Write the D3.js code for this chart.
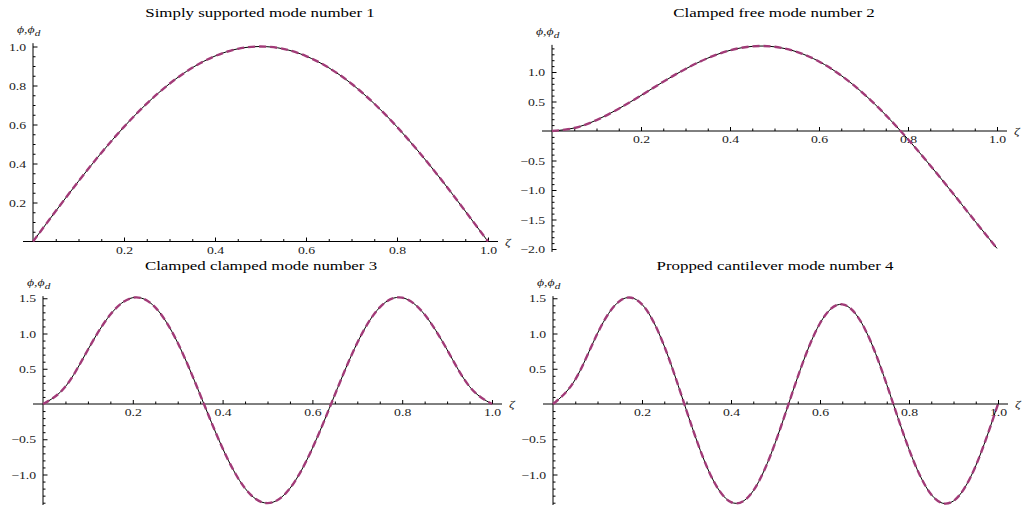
<!DOCTYPE html>
<html>
<head>
<meta charset="utf-8">
<script src="https://cdn.jsdelivr.net/npm/d3@7"></script>
<style>
    body { margin: 0; background: #fff; }
    svg { display: block; font-family: "Liberation Serif", "Times New Roman", serif; }
    .axis text { font-size: 11px; fill: #1a1a1a; }
    .axis line { stroke: #000; stroke-width: 1; }
    .axis-line { stroke: #000; stroke-width: 1; }
    .title { font-size: 13.5px; fill: #000; }
    .var-label { font-size: 11px; font-style: italic; fill: #1a1a1a; }
</style>
</head>
<body>
<div class="chart-main"></div>
<script>

//////////
// DATA //
//////////

var zeta = [0, 0.05, 0.1, 0.15, 0.2, 0.25, 0.3, 0.35, 0.4, 0.45, 0.5,
            0.55, 0.6, 0.65, 0.7, 0.75, 0.8, 0.85, 0.9, 0.95, 1.0];

var simplySupported1 = [0, 0.156, 0.309, 0.454, 0.588, 0.707, 0.809, 0.891, 0.951, 0.988, 1.0,
                        0.988, 0.951, 0.891, 0.809, 0.707, 0.588, 0.454, 0.309, 0.156, 0];

var clampedFree2 = [0, 0.051, 0.185, 0.378, 0.602, 0.835, 1.052, 1.235, 1.367, 1.434, 1.427,
                    1.342, 1.179, 0.940, 0.634, 0.270, -0.140, -0.584, -1.048, -1.522, -1.99];

var clampedClamped3 = [0, 0.247, 0.770, 1.268, 1.508, 1.371, 0.868, 0.132, -0.628, -1.196, -1.406,
                       -1.196, -0.628, 0.132, 0.868, 1.371, 1.508, 1.268, 0.770, 0.247, 0];

var proppedCantilever4 = [0, 0.347, 1.002, 1.462, 1.414, 0.821, -0.093, -0.951, -1.392, -1.231, -0.540,
                          0.385, 1.145, 1.413, 1.075, 0.276, -0.642, -1.284, -1.375, -0.876, 0];

var titles = [
    'Simply supported mode number 1',
    'Clamped free mode number 2',
    'Clamped clamped mode number 3',
    'Propped cantilever mode number 4'
];

var xTicks = [0.2, 0.4, 0.6, 0.8, 1.0];
var yTicks1 = [0.2, 0.4, 0.6, 0.8, 1.0];
var yTicks2 = [1.0, 0.5, -0.5, -1.0, -1.5, -2.0];
var yTicks34 = [1.5, 1.0, 0.5, -0.5, -1.0];

////////////
// LAYOUT //
////////////

var W = 1026, H = 505;
var SX = 1.25; // text in the picture is stretched sideways

var panels = [
    { title: titles[0], values: simplySupported1, yTicks: yTicks1, yMinor: 0.05, yTop: 1.017, yBottom: 0,
      left: 33, right: 488, zero: 241.5, unit: 195, titleX: 260, titleY: 17 },
    { title: titles[1], values: clampedFree2, yTicks: yTicks2, yMinor: 0.1, yTop: 1.46, yBottom: -2.05,
      left: 552, right: 997, zero: 131, unit: 59, titleX: 774, titleY: 17 },
    { title: titles[2], values: clampedClamped3, yTicks: yTicks34, yMinor: 0.1, yTop: 1.53, yBottom: -1.47,
      left: 43, right: 492, zero: 404, unit: 70.5, titleX: 261, titleY: 270 },
    { title: titles[3], values: proppedCantilever4, yTicks: yTicks34, yMinor: 0.1, yTop: 1.53, yBottom: -1.47,
      left: 553, right: 998, zero: 404, unit: 70.5, titleX: 775, titleY: 270 }
];

//////////////////
// CREATING SVG //
//////////////////

var svg = d3.select('.chart-main')
    .append('svg')
    .attr('width', W)
    .attr('height', H);

svg.append('rect')
    .attr('width', W)
    .attr('height', H)
    .attr('fill', '#fff');

function stepTicks(lo, hi, step, skip) {
    var out = [];
    for (var v = Math.ceil(lo / step - 1e-6) * step; v <= hi + 1e-6; v += step) {
        var r = Math.round(v * 1000) / 1000;
        if (Math.abs(r) < 1e-6) continue;
        if (skip.some(function(s) { return Math.abs(s - r) < 1e-6; })) continue;
        out.push(r);
    }
    return out;
}

function drawPanel(p) {

    var g = svg.append('g');

    ////////////
    // SCALES //
    ////////////

    var x = d3.scaleLinear()
        .domain([0, 1])
        .range([p.left, p.right]);

    var y = d3.scaleLinear()
        .domain([0, 1])
        .range([p.zero, p.zero - p.unit]);

    ///////////
    // AXES  //
    ///////////

    g.append('line')
        .attr('class', 'axis-line')
        .attr('x1', p.left - 10)
        .attr('x2', p.right + 10)
        .attr('y1', y(0))
        .attr('y2', y(0));

    g.append('line')
        .attr('class', 'axis-line')
        .attr('x1', x(0))
        .attr('x2', x(0))
        .attr('y1', y(p.yTop))
        .attr('y2', y(p.yBottom));

    var xAxis = d3.axisBottom(x)
        .tickValues(xTicks)
        .tickSizeInner(-4)
        .tickSizeOuter(0)
        .tickPadding(4.5)
        .tickFormat(d3.format('.1f'));

    var xMinor = d3.axisBottom(x)
        .tickValues(stepTicks(0, 1, 0.05, xTicks))
        .tickSizeInner(-2.5)
        .tickSizeOuter(0)
        .tickFormat('');

    var yAxis = d3.axisLeft(y)
        .tickValues(p.yTicks)
        .tickSizeInner(-4.5)
        .tickSizeOuter(0)
        .tickPadding(5.5)
        .tickFormat(d3.format('.1f'));

    var yMinor = d3.axisLeft(y)
        .tickValues(stepTicks(p.yBottom, p.yTop, p.yMinor, p.yTicks))
        .tickSizeInner(-2.5)
        .tickSizeOuter(0)
        .tickFormat('');

    [[xAxis, 'translate(0,' + y(0) + ')'], [xMinor, 'translate(0,' + y(0) + ')'],
     [yAxis, 'translate(' + x(0) + ',0)'], [yMinor, 'translate(' + x(0) + ',0)']]
        .forEach(function(a) {
            var ag = g.append('g')
                .attr('class', 'axis')
                .attr('transform', a[1])
                .call(a[0]);
            ag.select('.domain').remove();
            ag.attr('font-family', null).attr('font-size', null);
            ag.selectAll('text').attr('transform', 'scale(' + SX + ',1)');
        });

    ///////////
    // CURVE //
    ///////////

    var line = d3.line()
        .x(function(d, i) { return x(zeta[i]); })
        .y(function(d) { return y(d); })
        .curve(d3.curveNatural);

    g.append('path')
        .datum(p.values)
        .attr('d', line)
        .attr('fill', 'none')
        .attr('stroke', '#000')
        .attr('stroke-width', 1);

    g.append('path')
        .datum(p.values)
        .attr('d', line)
        .attr('fill', 'none')
        .attr('stroke', '#a23b78')
        .attr('stroke-width', 2.4)
        .attr('stroke-dasharray', '7,4');

    ////////////
    // LABELS //
    ////////////

    g.append('text')
        .attr('class', 'title')
        .attr('text-anchor', 'middle')
        .attr('transform', 'translate(' + p.titleX + ',' + p.titleY + ') scale(' + SX + ',1)')
        .text(p.title);

    g.append('text')
        .attr('class', 'var-label')
        .attr('transform', 'translate(' + (p.right + 17) + ',' + (y(0) + 4) + ') scale(' + SX + ',1)')
        .text('ζ');

    var yl = g.append('text')
        .attr('class', 'var-label')
        .attr('transform', 'translate(' + (p.left - 16) + ',' + (y(p.yTop) - 10) + ') scale(' + SX + ',1)');
    yl.append('tspan').text('ϕ,ϕ');
    yl.append('tspan').attr('dy', 3).attr('font-size', '9px').text('d');
}

panels.forEach(drawPanel);

</script>
</body>
</html>
